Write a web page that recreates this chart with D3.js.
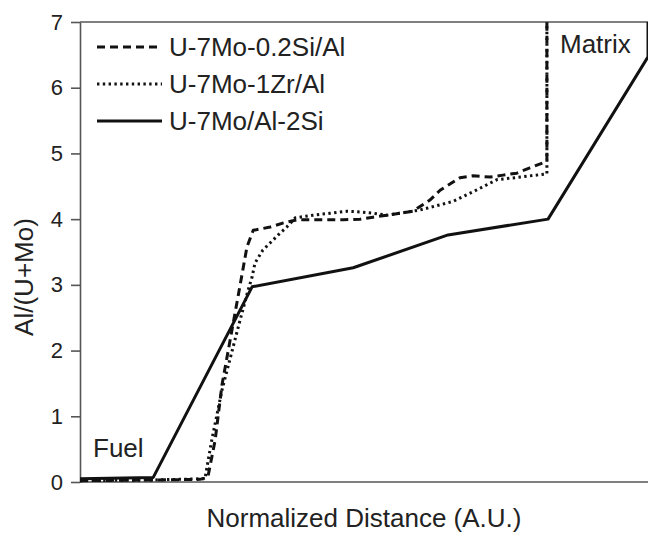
<!DOCTYPE html>
<html>
<head>
<meta charset="utf-8">
<script src="https://cdn.jsdelivr.net/npm/d3@7"></script>
<style>
  body { margin: 0; background: #fff; }
  text { font-family: "Liberation Sans", Arial, Helvetica, sans-serif; fill: #222; }
</style>
</head>
<body>
<svg id="chart" width="648" height="535"></svg>
<script>
/*************************** Data ***************************/
// x = normalized distance (0..100, A.U.), y = Al/(U+Mo)
var seriesNames = ["U-7Mo-0.2Si/Al", "U-7Mo-1Zr/Al", "U-7Mo/Al-2Si"];

var siX = [0, 12.3, 21.1, 22.5, 23.8, 25.0, 27.8, 29.4, 30.5, 33.5, 35.7, 38.2, 41.0, 44.0, 46.3, 49.3,
           51.6, 54.0, 56.3, 58.6, 61.6, 63.4, 66.9, 69.2, 72.2, 74.5, 76.9, 79.2, 81.9, 82.2, 82.2];
var siY = [0.02, 0.03, 0.04, 0.07, 0.64, 1.48, 2.81, 3.58, 3.83, 3.88, 3.94, 3.99, 3.99, 3.99, 3.99, 4.00,
           4.03, 4.06, 4.09, 4.12, 4.29, 4.44, 4.63, 4.66, 4.64, 4.67, 4.70, 4.78, 4.87, 4.90, 7.0];

var zrX = [0, 12.3, 22.0, 23.2, 25.0, 28.2, 29.6, 30.3, 30.8, 32.2, 33.5, 34.9, 36.4, 37.9, 41.0, 44.0,
           47.0, 49.3, 51.6, 54.0, 56.3, 59.9, 65.7, 69.5, 73.4, 77.5, 82.2, 82.2];
var zrY = [0.02, 0.03, 0.05, 0.64, 1.40, 2.47, 2.92, 3.12, 3.33, 3.53, 3.64, 3.76, 3.88, 4.02, 4.06, 4.09,
           4.12, 4.11, 4.09, 4.06, 4.09, 4.14, 4.27, 4.43, 4.60, 4.64, 4.69, 7.0];

var alX = [0, 12.9, 30.3, 48.1, 64.8, 82.4, 100, 100];
var alY = [0.05, 0.07, 2.97, 3.26, 3.76, 4.00, 6.47, 7.0];

var yTicks = [0, 1, 2, 3, 4, 5, 6, 7];

/*************************** Layout ***************************/
var svg = d3.select("#chart");
var plotLeft = 80, plotRight = 648, plotTop = 22, plotBottom = 482;

var x = d3.scaleLinear().domain([0, 100]).range([plotLeft, plotRight]);
var y = d3.scaleLinear().domain([0, 7]).range([plotBottom, plotTop]);

function pairs(xs, ys) { return xs.map(function (v, i) { return [v, ys[i]]; }); }

var series = [
  { name: seriesNames[0], data: pairs(siX, siY), dash: "8,5", width: 3 },
  { name: seriesNames[1], data: pairs(zrX, zrY), dash: "2.4,3.4", width: 3 },
  { name: seriesNames[2], data: pairs(alX, alY), dash: null, width: 3 }
];

/*************************** Axes ***************************/
var axisColor = "#555";

var yAxis = svg.append("g")
  .attr("transform", "translate(" + plotLeft + ",0)")
  .call(d3.axisLeft(y).tickValues(yTicks).tickFormat(d3.format("d")).tickSize(9).tickSizeOuter(0).tickPadding(8));
yAxis.select(".domain").attr("stroke", axisColor).attr("stroke-width", 1.6);
yAxis.selectAll(".tick line").attr("stroke", axisColor).attr("stroke-width", 1.6);
yAxis.selectAll(".tick text")
  .attr("font-size", "22px")
  .attr("fill", "#333")
  .style("font-family", "'Liberation Sans', Arial, sans-serif");

// bottom axis line and top frame
svg.append("line")
  .attr("x1", plotLeft).attr("x2", plotRight).attr("y1", plotBottom).attr("y2", plotBottom)
  .attr("stroke", axisColor).attr("stroke-width", 1.6);
svg.append("line")
  .attr("x1", plotLeft).attr("x2", plotRight).attr("y1", plotTop).attr("y2", plotTop)
  .attr("stroke", axisColor).attr("stroke-width", 1.6);

/*************************** Lines ***************************/
var line = d3.line()
  .x(function (d) { return x(d[0]); })
  .y(function (d) { return y(d[1]); });

svg.append("g").selectAll("path")
  .data(series)
  .enter()
  .append("path")
  .attr("d", function (d) { return line(d.data); })
  .attr("fill", "none")
  .attr("stroke", "#111")
  .attr("stroke-width", function (d) { return d.width; })
  .attr("stroke-dasharray", function (d) { return d.dash; })
  .attr("stroke-linejoin", "round");

/*************************** Legend ***************************/
var legend = svg.append("g");
var legendRows = [47, 84, 121];
series.forEach(function (s, i) {
  legend.append("line")
    .attr("x1", 97).attr("x2", 162)
    .attr("y1", legendRows[i]).attr("y2", legendRows[i])
    .attr("stroke", "#111")
    .attr("stroke-width", s.width)
    .attr("stroke-dasharray", s.dash);
  legend.append("text")
    .attr("x", 169).attr("y", legendRows[i] + 9)
    .attr("font-size", "26px")
    .text(s.name);
});

/*************************** Labels ***************************/
svg.append("text").attr("x", 93).attr("y", 457).attr("font-size", "26px").text("Fuel");
svg.append("text").attr("x", 560).attr("y", 53).attr("font-size", "26px").text("Matrix");

svg.append("text")
  .attr("x", (plotLeft + plotRight) / 2).attr("y", 527)
  .attr("text-anchor", "middle")
  .attr("font-size", "26px")
  .text("Normalized Distance (A.U.)");

svg.append("text")
  .attr("transform", "translate(33,277) rotate(-90)")
  .attr("text-anchor", "middle")
  .attr("font-size", "26px")
  .text("Al/(U+Mo)");
</script>
</body>
</html>
